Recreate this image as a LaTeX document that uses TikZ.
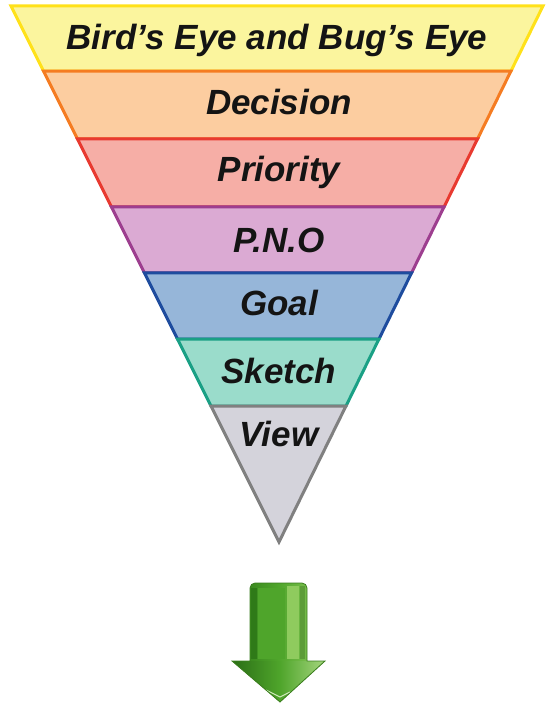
\documentclass[tikz,border=0pt]{standalone}
\usepackage{fontspec}
\setmainfont{Liberation Sans}
\usetikzlibrary{calc}
\definecolor{yfill}{HTML}{FBF59E}\definecolor{ydraw}{HTML}{FFE11A}
\definecolor{ofill}{HTML}{FCCDA0}\definecolor{odraw}{HTML}{F57C22}
\definecolor{rfill}{HTML}{F6AEA6}\definecolor{rdraw}{HTML}{E83A30}
\definecolor{pfill}{HTML}{DBAAD3}\definecolor{pdraw}{HTML}{9D3E8F}
\definecolor{bfill}{HTML}{96B6D9}\definecolor{bdraw}{HTML}{1E4C9E}
\definecolor{tfill}{HTML}{9ADCCB}\definecolor{tdraw}{HTML}{1AA085}
\definecolor{gfill}{HTML}{D4D3DB}\definecolor{gdraw}{HTML}{808080}
\definecolor{gdark}{HTML}{2F7A18}\definecolor{gmid}{HTML}{4FA52B}
\definecolor{glight}{HTML}{8FCB5E}\definecolor{gedge}{HTML}{3A7D1E}
\tikzset{
  band/.style={line width=3pt, line join=miter},
  lab/.style={font=\fontsize{35}{42}\selectfont\bfseries\itshape, anchor=base, inner sep=0pt, text=black!92},
  arrowpath/.style={}
}
\begin{document}
\begin{tikzpicture}[x=1pt,y=-1pt]
\useasboundingbox (0,0) rectangle (553,703);
\coordinate (TL) at (11,6);
\coordinate (TR) at (543,6);
\coordinate (A) at (279,542);
% boundaries
\foreach \n/\t in {0/0,1/0.12127,2/0.24813,3/0.375,4/0.49813,5/0.62127,6/0.74627}{
  \coordinate (L\n) at ($(TL)!\t!(A)$);
  \coordinate (R\n) at ($(TR)!\t!(A)$);
}
\draw[band, draw=ydraw, fill=yfill] (L0) -- (R0) -- (R1) -- (L1) -- cycle;
\draw[band, draw=odraw, fill=ofill] (L1) -- (R1) -- (R2) -- (L2) -- cycle;
\draw[band, draw=rdraw, fill=rfill] (L2) -- (R2) -- (R3) -- (L3) -- cycle;
\draw[band, draw=pdraw, fill=pfill] (L3) -- (R3) -- (R4) -- (L4) -- cycle;
\draw[band, draw=bdraw, fill=bfill] (L4) -- (R4) -- (R5) -- (L5) -- cycle;
\draw[band, draw=tdraw, fill=tfill] (L5) -- (R5) -- (R6) -- (L6) -- cycle;
\draw[band, draw=gdraw, fill=gfill] (L6) -- (R6) -- (A) -- cycle;
% labels
\node[lab] (t1) at (277,50) {Bird’s Eye and Bug’s Eye};
\node[lab] (t2) at (279,115) {Decision};
\node[lab] (t3) at (279,182) {Priority};
\node[lab] (t4) at (279,252) {P.N.O};
\node[lab] (t5) at (279,315) {Goal};
\node[lab] (t6) at (279,383) {Sketch};
\node[lab] (t7) at (279,446) {View};
% green arrow
\path[left color=gdark, right color=glight, middle color=gmid]
  (250,661) [rounded corners=5pt] -- (250,583) -- (307,583) [sharp corners] -- (307,661)
  -- (325,661) -- (280,702) -- (232,661) -- cycle;
\fill[gmid] (258,588) rectangle (285,659);
\fill[glight] (287,586) rectangle (299,659);
\fill[gedge!60!glight] (300,586) rectangle (305,659);
\fill[gdark] (251,588) rectangle (257,659);
\path[left color=gdark!90!black, right color=gmid] (232,661) -- (280,661) -- (280,702) -- cycle;
\path[left color=gmid, right color=glight!80!white] (280,661) -- (325,661) -- (280,702) -- cycle;
\draw[white!60!glight, line width=1pt, line cap=round] (266,690) -- (280,697) -- (290,692);
\draw[gedge, line width=0.8pt]
  (250,661) [rounded corners=5pt] -- (250,583) -- (307,583) [sharp corners] -- (307,661)
  -- (325,661) -- (280,702) -- (232,661) -- cycle;
\end{tikzpicture}
\end{document}
